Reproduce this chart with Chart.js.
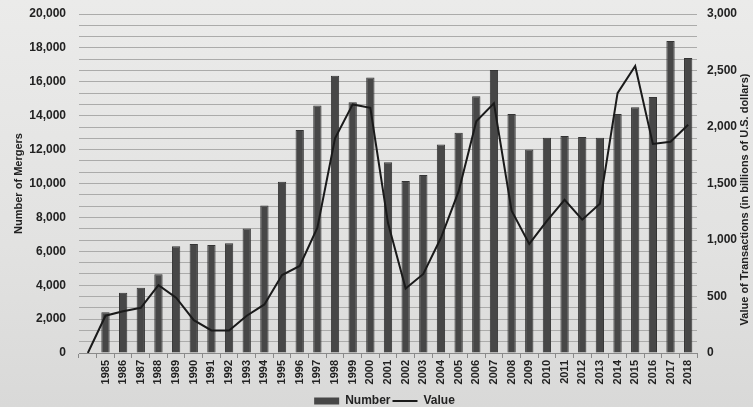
<!DOCTYPE html>
<html>
<head>
<meta charset="utf-8">
<script src="https://cdn.jsdelivr.net/npm/chart.js@4.4.1/dist/chart.umd.min.js"></script>
<style>
  html, body { margin: 0; padding: 0; }
  body { width: 753px; height: 407px; background: linear-gradient(180deg, #ebebea 0%, #e2e2e1 60%, #d9d9d8 100%); }
  #wrap { position: relative; width: 753px; height: 407px; }
</style>
</head>
<body>
<div id="wrap"><canvas id="mergers" width="753" height="407"></canvas></div>
<script>
// years, with an empty slot before 1985 where the value line starts from 0
const years = ['', '1985', '1986', '1987', '1988', '1989', '1990', '1991', '1992', '1993', '1994',
  '1995', '1996', '1997', '1998', '1999', '2000', '2001', '2002', '2003', '2004', '2005', '2006',
  '2007', '2008', '2009', '2010', '2011', '2012', '2013', '2014', '2015', '2016', '2017', '2018'];

const numberOfMergers = [null, 2400, 3550, 3850, 4650, 6300, 6430, 6370, 6470, 7350, 8700,
  10100, 13150, 14600, 16350, 14800, 16250, 11250, 10150, 10500, 12300, 13000, 15150,
  16700, 14100, 12000, 12700, 12800, 12750, 12700, 14100, 14500, 15100, 18400, 17400];

// billions of U.S. dollars
const transactionValue = [0, 330, 370, 400, 600, 490, 290, 200, 200, 330, 430,
  690, 770, 1110, 1900, 2200, 2170, 1150, 570, 700, 1020, 1430, 2050,
  2210, 1260, 965, 1170, 1355, 1180, 1320, 2300, 2540, 1850, 1870, 2020];

const leftTicks = { min: 0, max: 20000, step: 2000 };
const rightTicks = { min: 0, max: 3000, step: 500, gridStep: 100 };

const leftTitle = 'Number of Mergers';
const rightTitle = 'Value of Transactions (in billions of U.S. dollars)';

const FONT = "'Liberation Sans', Arial, sans-serif";
const INK = '#222222';

// right axis title reads bottom-to-top in the picture, so draw it here
const rightTitlePlugin = {
  id: 'rightTitle',
  afterDraw(chart) {
    const ctx = chart.ctx;
    const area = chart.chartArea;
    ctx.save();
    ctx.translate(745, (area.top + area.bottom) / 2 + 16);
    ctx.rotate(-Math.PI / 2);
    ctx.font = 'bold 11px ' + FONT;
    ctx.fillStyle = INK;
    ctx.textAlign = 'center';
    ctx.textBaseline = 'middle';
    ctx.fillText(rightTitle, 0, 0);
    ctx.restore();
  }
};

const ctx = document.getElementById('mergers');
new Chart(ctx, {
  data: {
    labels: years,
    datasets: [{
      type: 'bar',
      label: 'Number',
      data: numberOfMergers,
      yAxisID: 'y',
      backgroundColor: '#474747',
      borderColor: '#343434',
      borderWidth: 1,
      barPercentage: 1,
      categoryPercentage: 0.47,
      order: 2
    }, {
      type: 'line',
      label: 'Value',
      data: transactionValue,
      yAxisID: 'y1',
      borderColor: '#1a1a1a',
      backgroundColor: '#1a1a1a',
      borderWidth: 2,
      pointRadius: 0,
      tension: 0,
      order: 1
    }]
  },
  options: {
    responsive: false,
    animation: false,
    // left padding nudges the legend to the right, the axis width takes it back
    layout: { padding: { top: 14, bottom: -10, left: 16, right: 0 } },
    plugins: {
      tooltip: { enabled: false },
      legend: {
        position: 'bottom',
        labels: {
          usePointStyle: true,
          pointStyleWidth: 25,
          boxHeight: 7,
          padding: 2,
          color: INK,
          font: { family: FONT, size: 12, weight: 'bold' },
          generateLabels(chart) {
            const items = Chart.defaults.plugins.legend.labels.generateLabels(chart);
            items.sort((a, b) => a.datasetIndex - b.datasetIndex);
            items.forEach(it => {
              if (it.datasetIndex === 0) { it.pointStyle = 'rect'; it.lineWidth = 0; }
              else { it.pointStyle = 'line'; it.lineWidth = 2; }
            });
            return items;
          }
        }
      }
    },
    scales: {
      x: {
        offset: true,
        grid: { display: true, drawOnChartArea: false, offset: true, tickLength: 5, color: '#8a8a8a' },
        border: { display: true, color: '#8a8a8a' },
        ticks: {
          autoSkip: false,
          minRotation: 90,
          maxRotation: 90,
          padding: 2,
          color: INK,
          font: { family: FONT, size: 11, weight: 'bold' }
        },
        afterFit(scale) { scale.height = 40; }
      },
      y: {
        position: 'left',
        min: leftTicks.min,
        max: leftTicks.max,
        // invisible tick marks give the gap next to the labels
        grid: { display: true, drawOnChartArea: false, drawTicks: true, tickLength: 9, tickColor: 'rgba(0,0,0,0)' },
        border: { display: false },
        ticks: {
          stepSize: leftTicks.step,
          padding: 4,
          color: INK,
          font: { family: FONT, size: 12, weight: 'bold' },
          callback: v => v.toLocaleString('en-US')
        },
        title: {
          display: true,
          text: leftTitle,
          color: INK,
          font: { family: FONT, size: 11, weight: 'bold' },
          padding: { top: -4, bottom: 0 }
        },
        afterFit(scale) { scale.width = 63; }
      },
      y1: {
        position: 'right',
        min: rightTicks.min,
        max: rightTicks.max,
        grid: { display: true, drawTicks: true, tickLength: 6, tickColor: 'rgba(0,0,0,0)', color: '#ababaa', lineWidth: 1 },
        border: { display: false },
        ticks: {
          stepSize: rightTicks.gridStep,
          autoSkip: false,
          padding: 4,
          color: INK,
          font: { family: FONT, size: 12, weight: 'bold' },
          callback: v => (v % rightTicks.step === 0 ? v.toLocaleString('en-US') : '')
        },
        afterFit(scale) { scale.width = 56; }
      }
    }
  },
  plugins: [rightTitlePlugin]
});
</script>
</body>
</html>
